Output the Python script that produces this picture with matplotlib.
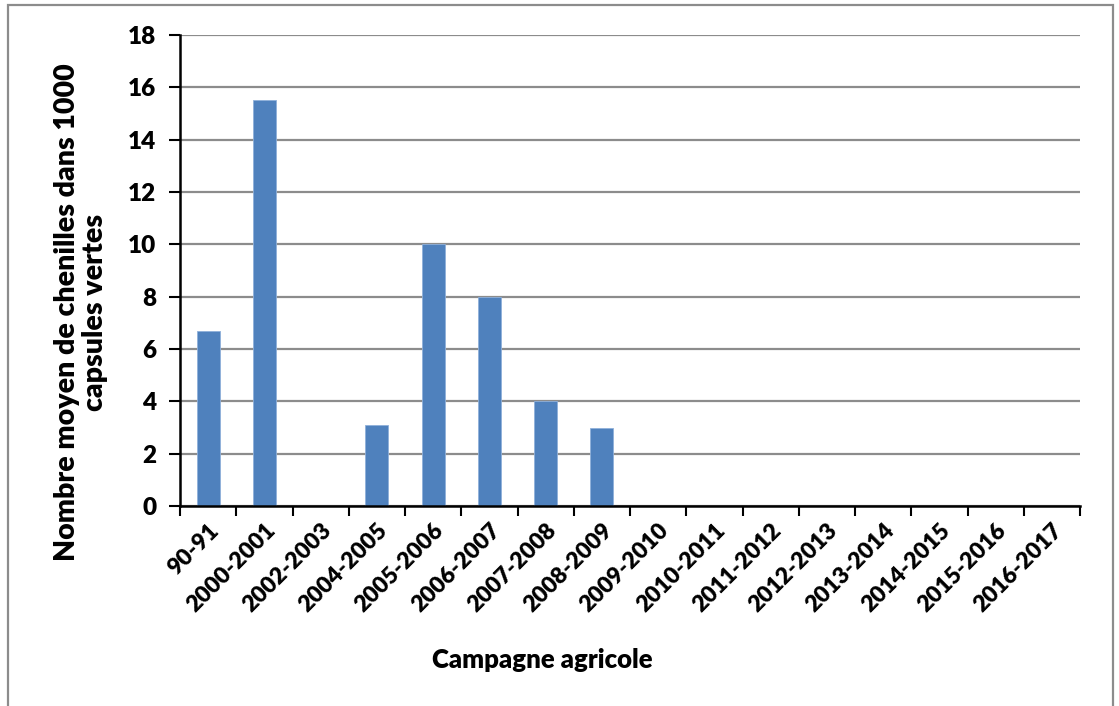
import numpy as np
import matplotlib.pyplot as plt
from matplotlib.patches import Rectangle

campagnes = ['90-91', '2000-2001', '2002-2003', '2004-2005', '2005-2006',
             '2006-2007', '2007-2008', '2008-2009', '2009-2010', '2010-2011',
             '2011-2012', '2012-2013', '2013-2014', '2014-2015', '2015-2016',
             '2016-2017']
chenilles = [6.7, 15.5, 0, 3.1, 10.0, 8.0, 4.0, 3.0, 0, 0, 0, 0, 0, 0, 0, 0]

plt.rcParams['font.family'] = ['Lato', 'DejaVu Sans']
plt.rcParams['font.weight'] = 'heavy'

fig = plt.figure(figsize=(11.19, 7.06), dpi=100)
ax = fig.add_axes([180 / 1119, 1 - 506 / 706, 900 / 1119, 471 / 706])

x = np.arange(len(campagnes))
ax.bar(x, chenilles, width=0.41, color='#4F81BD', edgecolor='#8FB0DA',
       linewidth=0.6, zorder=3)

ax.set_xlim(-0.5, len(campagnes) - 0.5)
ax.set_ylim(0, 18)
ax.set_yticks(np.arange(0, 19, 2))
ax.yaxis.grid(True, color='#8C8C8C', linewidth=1.6, zorder=0)
ax.set_xticks(np.arange(-0.5, len(campagnes), 1))
ax.set_xticklabels([])
ax.set_xticks(x, minor=True)
ax.set_xticklabels(campagnes, minor=True, rotation=45, ha='right',
                   rotation_mode='anchor', fontsize=16.5, fontweight='heavy')
ax.tick_params(axis='x', which='minor', length=0, pad=10)
ax.tick_params(axis='x', which='major', length=7, width=1.5, direction='out')
ax.tick_params(axis='y', length=8, width=1.5, labelsize=17.5, pad=9)
for lbl in ax.get_yticklabels():
    lbl.set_fontweight('heavy')

for s in ['top', 'right']:
    ax.spines[s].set_visible(False)
for s in ['left', 'bottom']:
    ax.spines[s].set_linewidth(1.8)
    ax.spines[s].set_zorder(4)

fig.text(81 / 1119, 1 - 312 / 706, 'Nombre moyen de chenilles dans 1000\ncapsules vertes',
         rotation=90, ha='center', va='center', fontsize=20.5, fontweight='heavy',
         linespacing=1.1)
fig.text(542 / 1119, 1 - 660 / 706, 'Campagne agricole', ha='center', va='center',
         fontsize=18.5, fontweight='heavy')

fig.patches.append(Rectangle((8 / 1119, -0.05), 1105 / 1119, 1.0 - 5 / 706 + 0.05,
                             transform=fig.transFigure, fill=False,
                             edgecolor='#8C8C8C', linewidth=1.6))

fig.savefig('out.png', dpi=100)
